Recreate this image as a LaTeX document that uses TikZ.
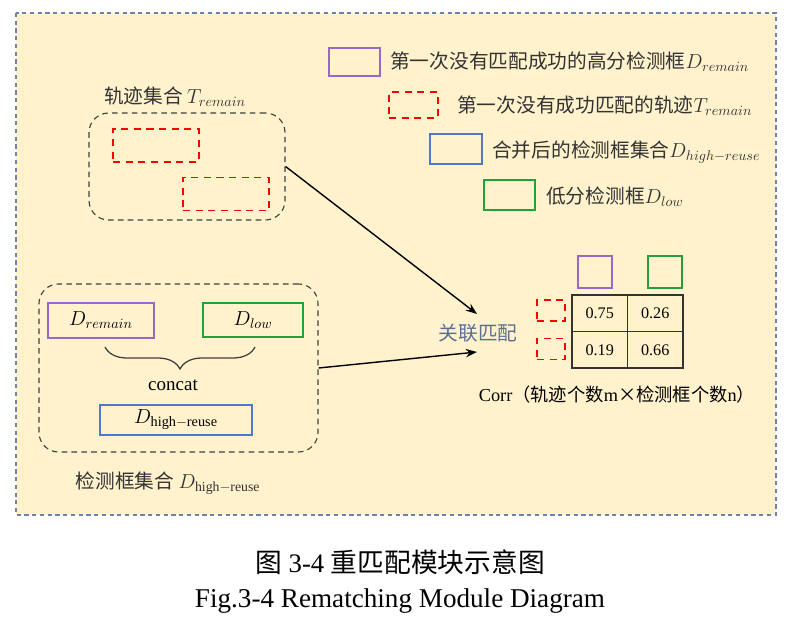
\documentclass[tikz,border=0pt]{standalone}
\usepackage{fontspec}
\setmainfont{Liberation Serif}
\newfontfamily\cjk{Noto Sans CJK SC}
\usetikzlibrary{arrows.meta}
\usetikzlibrary{decorations.pathreplacing}
\definecolor{panelfill}{RGB}{255,242,204}
\definecolor{paneldraw}{RGB}{108,130,170}
\definecolor{hipurple}{RGB}{153,102,204}
\definecolor{lowgreen}{RGB}{34,160,60}
\definecolor{reuseblue}{RGB}{80,120,200}
\definecolor{matchtext}{RGB}{90,110,150}
\tikzset{panel/.style={draw=paneldraw, fill=panelfill, line width=0.9pt, dash pattern=on 3pt off 2.5pt},
 setbox/.style={draw=black!75, line width=0.8pt, dash pattern=on 4pt off 3pt, rounded corners=14pt},
 trkbox/.style={draw=red, line width=1.1pt, dash pattern=on 5pt off 4pt},
 hibox/.style={draw=hipurple, line width=1.2pt},
 lowbox/.style={draw=lowgreen, line width=1.2pt},
 reusebox/.style={draw=reuseblue, line width=1.2pt},
 cell/.style={draw=black!80, line width=0.9pt, minimum width=1.39cm, minimum height=0.91cm, font=\fontsize{11.5}{13}\selectfont},
 lbl/.style={inner sep=0pt, text=black!80, font=\fontsize{14}{16}\selectfont\cjk},
 link/.style={-{Stealth[length=8pt,width=6pt]}, line width=1pt},
 }

\begin{document}
\begin{tikzpicture}[x=0.025cm, y=-0.025cm]
        \useasboundingbox (0,0) rectangle (801,623);
        \draw [panel] (16,13) rectangle (776,515);
        % track set
        \node [lbl] (tsetlbl) at (175,97) {轨迹集合 $T_{remain}$};
        \node [setbox, minimum width=4.9cm, minimum height=2.675cm] (tset) at (187,166.5) {};
        \node [trkbox, minimum width=2.15cm, minimum height=0.825cm] (trk1) at (156,145.5) {};
        \node [trkbox, minimum width=2.15cm, minimum height=0.825cm] (trk2) at (226,194) {};
        % legend
        \node [hibox, minimum width=1.275cm, minimum height=0.7cm] (leghi) at (354.5,62) {};
        \node [lbl, anchor=west] (leghitxt) at (390,62) {第一次没有匹配成功的高分检测框$D_{remain}$};
        \node [trkbox, minimum width=1.225cm, minimum height=0.65cm] (legtrk) at (413.5,105) {};
        \node [lbl, anchor=west] (legtrktxt) at (457,106) {第一次没有成功匹配的轨迹$T_{remain}$};
        \node [reusebox, minimum width=1.3cm, minimum height=0.75cm] (legreuse) at (456,149) {};
        \node [lbl, anchor=west] (legreusetxt) at (492,152) {合并后的检测框集合$D_{high-reuse}$};
        \node [lowbox, minimum width=1.275cm, minimum height=0.75cm] (leglow) at (509.5,195) {};
        \node [lbl, anchor=west] (leglowtxt) at (546,197) {低分检测框$D_{low}$};
        % detection set
        \node [setbox, minimum width=6.975cm, minimum height=4.2cm] (dset) at (178.5,368) {};
        \node [hibox, minimum width=2.65cm, minimum height=0.875cm, font=\fontsize{14.5}{16}\selectfont] (dhi) at (101,320.5) {$D_{remain}$};
        \node [lowbox, minimum width=2.5cm, minimum height=0.85cm, font=\fontsize{14.5}{16}\selectfont] (dlow) at (253,320) {$D_{low}$};
        \coordinate (brl) at (105,347);
        \coordinate (brr) at (255,347);
        \draw [decorate, decoration={brace, mirror, amplitude=0.55cm}, draw=black!75, line width=0.9pt] (brl) -- (brr);
        \node [font=\fontsize{13.5}{16}\selectfont] (concat) at (173,385) {concat};
        \node [reusebox, minimum width=3.8cm, minimum height=0.75cm, font=\fontsize{14.5}{16}\selectfont] (dreuse) at (176,420) {$D_{\mathrm{high-reuse}}$};
        \node [lbl] (dsetlbl) at (168,483) {检测框集合 $D_{\mathrm{high-reuse}}$};
        % matching
        \node [lbl, text=matchtext] (match) at (478,333) {关联匹配};
        \coordinate (m1) at (477,314);
        \coordinate (m2) at (477,352);
        \draw [link] (tset.east) -- (m1);
        \draw [link] (dset.east) -- (m2);
        % correlation matrix
        \node [hibox, minimum width=0.85cm, minimum height=0.8cm] (colhi) at (595,272) {};
        \node [lowbox, minimum width=0.85cm, minimum height=0.8cm] (collow) at (665,272) {};
        \node [trkbox, minimum width=0.7cm, minimum height=0.525cm] (row1) at (551,310.5) {};
        \node [trkbox, minimum width=0.7cm, minimum height=0.525cm] (row2) at (551,349) {};
        \node [cell] (c11) at (599.75,313.25) {0.75};
        \node [cell] (c12) at (655.25,313.25) {0.26};
        \node [cell] (c21) at (599.75,349.75) {0.19};
        \node [cell] (c22) at (655.25,349.75) {0.66};
        \node [inner sep=0pt, font=\fontsize{13}{16}\selectfont] (corr) at (617,395) {Corr{\cjk （轨迹个数}m{\cjk ×检测框个数}n{\cjk ）}};
        % caption
        \node [font=\fontsize{19}{22}\selectfont] (capcn) at (400,562) {{\cjk 图} 3-4 {\cjk 重匹配模块示意图}};
        \node [font=\fontsize{19.3}{22}\selectfont] (capen) at (400,601) {Fig.3-4 Rematching Module Diagram};
    \end{tikzpicture}
\end{document}
